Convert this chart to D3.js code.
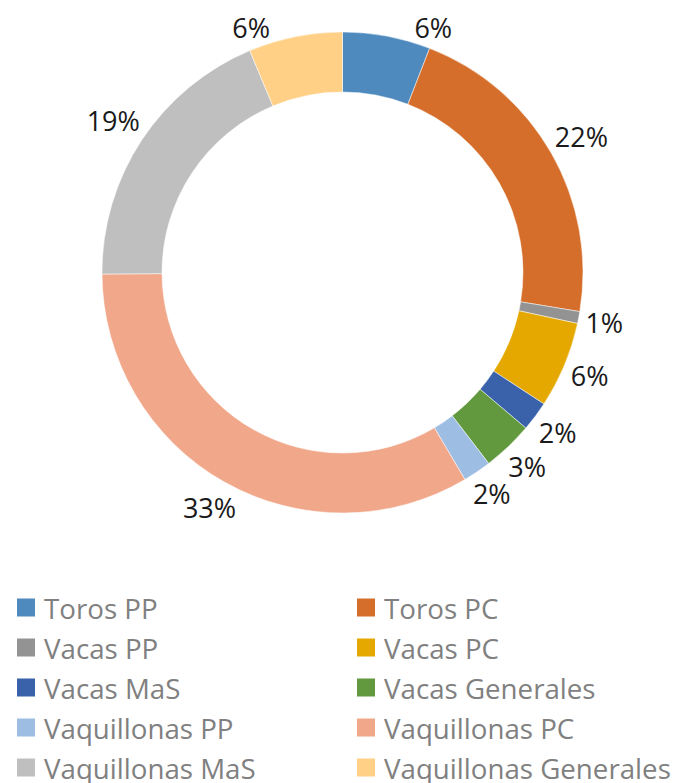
<!DOCTYPE html>
<html>
<head>
<meta charset="utf-8">
<script src="https://cdn.jsdelivr.net/npm/d3@7"></script>
<style>
  body { margin: 0; background: #fff; }
  svg text { font-family: "Open Sans", sans-serif; }
</style>
</head>
<body>
<div id="chart"></div>
<script>
// chart data
var categories = ["Toros PP", "Toros PC", "Vacas PP", "Vacas PC", "Vacas MaS",
    "Vacas Generales", "Vaquillonas PP", "Vaquillonas PC", "Vaquillonas MaS", "Vaquillonas Generales"];
var values = [5.9, 21.7, 0.8, 5.8, 2.0, 3.4, 1.9, 33.4, 18.8, 6.3];
var colors = ["#4e8abe", "#d56e2a", "#939393", "#e4a800", "#3a62ab",
    "#62993e", "#9dbde3", "#f1a78a", "#bfbfbf", "#ffd085"];

var width = 683, height = 783;
var cx = 342.5, cy = 272.5;
var outerR = 240.5, innerR = 180.5;
var labelGap = 5, labelTop = 27; // labels may not go above this line

var svg = d3.select("#chart").append("svg")
    .attr("width", width)
    .attr("height", height);

var total = d3.sum(values);
var pie = d3.pie().sort(null).value(function (d) { return d; });
var arcs = pie(values);

var arc = d3.arc().innerRadius(innerR).outerRadius(outerR);

var ring = svg.append("g").attr("transform", "translate(" + cx + "," + cy + ")");

ring.selectAll("path.slice")
    .data(arcs)
    .enter().append("path")
    .attr("class", "slice")
    .attr("d", arc)
    .attr("fill", function (d, i) { return colors[i]; })
    .attr("stroke", "#fff")
    .attr("stroke-width", 0.5);

// percentage labels outside the ring
var labels = ring.selectAll("text.lbl")
    .data(arcs)
    .enter().append("text")
    .attr("class", "lbl")
    .attr("text-anchor", "middle")
    .attr("dominant-baseline", "central")
    .attr("font-size", "27px")
    .attr("fill", "#1a1a1a")
    .text(function (d) { return Math.round(d.value / total * 100) + "%"; });

// put each label box just outside the ring, slide it along the ring if it hits the top
labels.attr("transform", function (d) {
    var box = this.getBBox();
    var a = (d.startAngle + d.endAngle) / 2;
    var ext = Math.abs(Math.sin(a)) * box.width / 2 + Math.abs(Math.cos(a)) * 13;
    var r = outerR + labelGap + ext;
    if (cy - r * Math.cos(a) < labelTop) {
        var na = Math.acos((cy - labelTop) / r);
        a = Math.sin(a) >= 0 ? na : -na;
    }
    return "translate(" + (r * Math.sin(a)) + "," + (-r * Math.cos(a)) + ")";
});

// legend, two columns
var legend = svg.append("g").attr("class", "legend");
var colX = [17, 357];
var rowY = d3.scaleLinear().domain([0, 1]).range([607.5, 647.5]);

var items = legend.selectAll("g.item")
    .data(categories)
    .enter().append("g")
    .attr("class", "item")
    .attr("transform", function (d, i) {
        return "translate(" + colX[i % 2] + "," + rowY(Math.floor(i / 2)) + ")";
    });

items.append("rect")
    .attr("x", 0)
    .attr("y", -9)
    .attr("width", 18)
    .attr("height", 18)
    .attr("fill", function (d, i) { return colors[i]; });

items.append("text")
    .attr("x", 27)
    .attr("y", 0)
    .attr("dominant-baseline", "central")
    .attr("font-size", "27.7px")
    .attr("fill", "#808080")
    .text(function (d) { return d; });
</script>
</body>
</html>
